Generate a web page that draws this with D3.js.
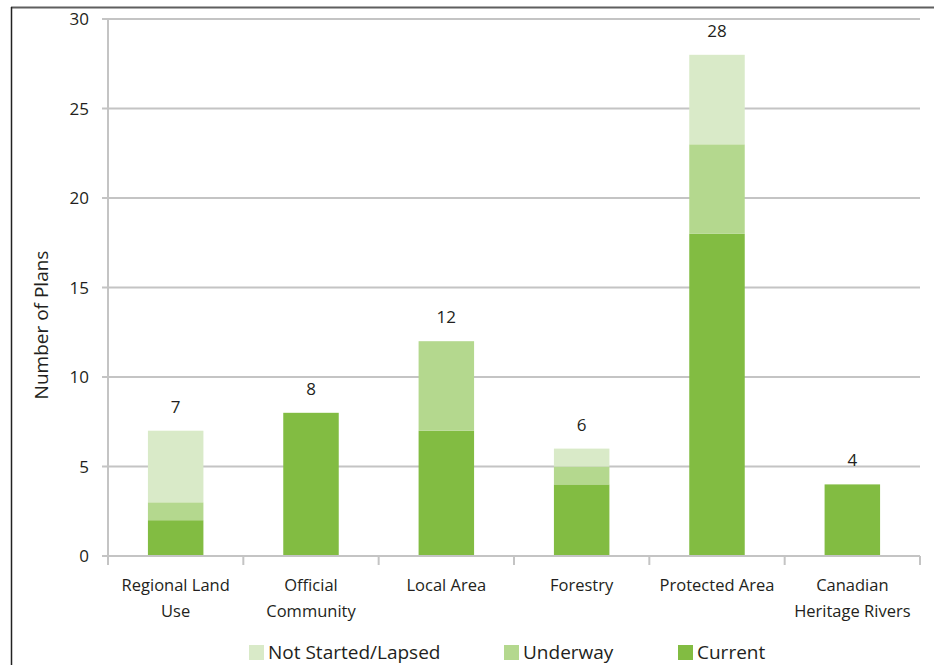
<!DOCTYPE html>
<html>
<head>
<meta charset="utf-8">
<script src="https://cdn.jsdelivr.net/npm/d3@7"></script>
<style>
  body { margin: 0; background: #fff; }
  svg text { font-family: "Open Sans", "Liberation Sans", sans-serif; fill: #231f20; }
</style>
</head>
<body>
<svg id="chart" width="934" height="665"></svg>
<script>
// plan types and counts by status
var categories = [["Regional Land", "Use"], ["Official", "Community"], ["Local Area"], ["Forestry"], ["Protected Area"], ["Canadian", "Heritage Rivers"]];
var current    = [2, 8, 7, 4, 18, 4];
var underway   = [1, 0, 5, 1, 5, 0];
var notStarted = [4, 0, 0, 1, 5, 0];
var totals     = [7, 8, 12, 6, 28, 4];
var yTicks     = [0, 5, 10, 15, 20, 25, 30];

var seriesNames  = ["Current", "Underway", "Not Started/Lapsed"];
var seriesColors = ["#82bc42", "#b4d88e", "#d9eac8"];

var svg = d3.select("#chart");
var m = {left: 108, right: 920, top: 19, bottom: 556};

// outer frame (top + left only visible)
svg.append("line").attr("x1", 11).attr("y1", 7.5).attr("x2", 934).attr("y2", 7.5)
	.attr("stroke", "#5f5f5f").attr("stroke-width", 2);
svg.append("line").attr("x1", 11.5).attr("y1", 7).attr("x2", 11.5).attr("y2", 665)
	.attr("stroke", "#222").attr("stroke-width", 1.5);

var x = d3.scaleBand().domain(d3.range(categories.length)).range([m.left, m.right]).paddingInner(0.59).paddingOuter(0.295);
var y = d3.scaleLinear().domain([0, 30]).range([m.bottom, m.top]);

// gridlines
svg.append("g").selectAll("line").data(yTicks.slice(1)).enter().append("line")
	.attr("x1", m.left - 6).attr("x2", m.right)
	.attr("y1", function(d){ return y(d); }).attr("y2", function(d){ return y(d); })
	.attr("stroke", "#c4c4c4").attr("stroke-width", 2);

// stacked bars
var rows = categories.map(function(c, i){ return {i: i, Current: current[i], Underway: underway[i], "Not Started/Lapsed": notStarted[i]}; });
var stack = d3.stack().keys(seriesNames)(rows);

svg.append("g").selectAll("g").data(stack).enter().append("g")
	.attr("fill", function(d, k){ return seriesColors[k]; })
	.selectAll("rect").data(function(d){ return d; }).enter().append("rect")
	.attr("x", function(d){ return x(d.data.i); })
	.attr("width", x.bandwidth())
	.attr("y", function(d){ return y(d[1]); })
	.attr("height", function(d){ return y(d[0]) - y(d[1]); });

// y axis
svg.append("line").attr("x1", m.left).attr("x2", m.left).attr("y1", m.top).attr("y2", m.bottom + 9)
	.attr("stroke", "#c4c4c4").attr("stroke-width", 2);
svg.append("line").attr("x1", m.left - 6).attr("x2", m.right).attr("y1", m.bottom).attr("y2", m.bottom)
	.attr("stroke", "#c4c4c4").attr("stroke-width", 2);
svg.append("g").selectAll("text").data(yTicks).enter().append("text")
	.attr("x", 89).attr("y", function(d){ return y(d); }).attr("dy", "0.36em")
	.attr("text-anchor", "end").attr("font-size", 17).text(function(d){ return d; });

// x axis ticks between categories
var bounds = d3.range(categories.length + 1).map(function(i){ return m.left + i * (m.right - m.left) / categories.length; });
svg.append("g").selectAll("line").data(bounds.slice(1)).enter().append("line")
	.attr("x1", function(d){ return d; }).attr("x2", function(d){ return d; })
	.attr("y1", m.bottom).attr("y2", m.bottom + 9)
	.attr("stroke", "#c4c4c4").attr("stroke-width", 2);

var xl = svg.append("g").selectAll("text").data(categories).enter().append("text")
	.attr("text-anchor", "middle").attr("font-size", 16.5)
	.attr("transform", function(d, i){ return "translate(" + (x(i) + x.bandwidth() / 2) + ",591)"; });
xl.selectAll("tspan").data(function(d){ return d; }).enter().append("tspan")
	.attr("x", 0).attr("dy", function(d, j){ return j ? 26 : 0; })
	.text(function(d){ return d; });

// totals above bars
svg.append("g").selectAll("text").data(totals).enter().append("text")
	.attr("x", function(d, i){ return x(i) + x.bandwidth() / 2; })
	.attr("y", function(d){ return y(d) - 18; })
	.attr("text-anchor", "middle").attr("font-size", 17).text(function(d){ return d; });

// y label
svg.append("text").attr("transform", "translate(48,325)rotate(-90)")
	.attr("text-anchor", "middle").attr("font-size", 19).text("Number of Plans");

// legend
var legendX = [249, 504, 678];
var legendOrder = [2, 1, 0];
var lg = svg.append("g").selectAll("g").data(legendOrder).enter().append("g")
	.attr("transform", function(d, i){ return "translate(" + legendX[i] + ",645)"; });
lg.append("rect").attr("width", 15).attr("height", 15).attr("fill", function(d){ return seriesColors[d]; });
lg.append("text").attr("x", 19).attr("y", 14).attr("font-size", 19).text(function(d){ return seriesNames[d]; });
</script>
</body>
</html>
